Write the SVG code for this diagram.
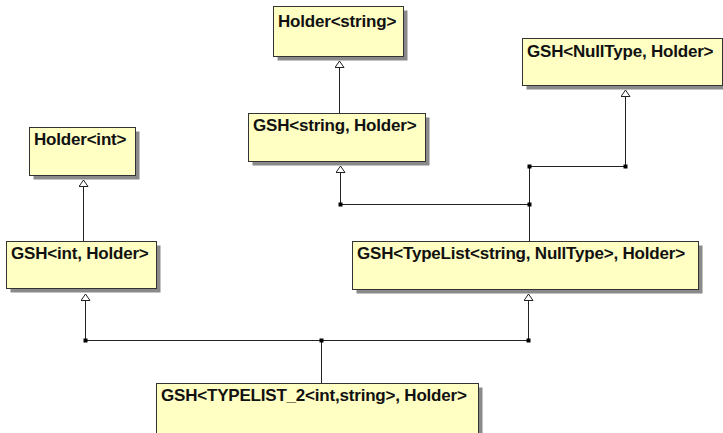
<svg xmlns="http://www.w3.org/2000/svg" width="723" height="433" viewBox="0 0 723 433">
  <style>
    .shadow { fill: #8a8a8a; }
    .box { fill: #ffffc4; stroke: #333333; stroke-width: 1; }
    .label { font-family: "Liberation Sans", Arial, sans-serif; font-weight: bold; font-size: 17px; letter-spacing: -0.2px; fill: #111111; }
    .edge { fill: none; stroke: #222222; stroke-width: 1; }
    .dot { fill: #000000; }
  </style>
  <defs>
    <!-- hollow triangle head for generalization, tip along +x -->
    <marker id="inherit" viewBox="0 0 8 10" refX="7.5" refY="5" markerWidth="8" markerHeight="10" markerUnits="userSpaceOnUse" orient="auto">
      <path d="M1,0.5 L7.5,5 L1,9.5 Z" fill="#ffffff" stroke="#222222" stroke-width="1"/>
    </marker>
  </defs>

  <!-- class nodes -->
  <g id="holder-string">
    <rect class="shadow" x="277.5" y="10.5" width="130" height="50"/>
    <rect class="box" x="273.5" y="6.5" width="130" height="50"/>
    <text class="label" x="278" y="27">Holder&lt;string&gt;</text>
  </g>
  <g id="gsh-string-holder">
    <rect class="shadow" x="252.5" y="117.5" width="177" height="48"/>
    <rect class="box" x="248.5" y="113.5" width="177" height="48"/>
    <text class="label" x="253" y="131">GSH&lt;string, Holder&gt;</text>
  </g>
  <g id="gsh-nulltype-holder">
    <rect class="shadow" x="526.5" y="42.5" width="200" height="47"/>
    <rect class="box" x="522.5" y="38.5" width="200" height="47"/>
    <text class="label" x="527" y="57">GSH&lt;NullType, Holder&gt;</text>
  </g>
  <g id="holder-int">
    <rect class="shadow" x="33.5" y="131.5" width="106" height="48"/>
    <rect class="box" x="29.5" y="127.5" width="106" height="48"/>
    <text class="label" x="34" y="145">Holder&lt;int&gt;</text>
  </g>
  <g id="gsh-int-holder">
    <rect class="shadow" x="10.5" y="245.5" width="150" height="47"/>
    <rect class="box" x="6.5" y="241.5" width="150" height="47"/>
    <text class="label" x="11" y="259">GSH&lt;int, Holder&gt;</text>
  </g>
  <g id="gsh-typelist-holder">
    <rect class="shadow" x="356.5" y="245.5" width="346" height="48"/>
    <rect class="box" x="352.5" y="241.5" width="346" height="48"/>
    <text class="label" x="357" y="259">GSH&lt;TypeList&lt;string, NullType&gt;, Holder&gt;</text>
  </g>
  <g id="gsh-typelist2-holder">
    <rect class="shadow" x="160.5" y="387.5" width="322" height="50"/>
    <rect class="box" x="156.5" y="383.5" width="322" height="50"/>
    <text class="label" x="161" y="401">GSH&lt;TYPELIST_2&lt;int,string&gt;, Holder&gt;</text>
  </g>

  <!-- generalization connectors -->
  <g id="connectors">
    <path class="edge" d="M339.5,113 L339.5,61" marker-end="url(#inherit)"/>
    <path class="edge" d="M83.5,241 L83.5,180" marker-end="url(#inherit)"/>
    <path class="edge" d="M529.5,241 L529.5,204.5 L340.5,204.5 L340.5,166" marker-end="url(#inherit)"/>
    <path class="edge" d="M529.5,204.5 L529.5,166.5 L625.5,166.5 L625.5,90" marker-end="url(#inherit)"/>
    <path class="edge" d="M321.5,383 L321.5,340.5 L85.5,340.5 L85.5,294" marker-end="url(#inherit)"/>
    <path class="edge" d="M321.5,340.5 L528.5,340.5 L528.5,294" marker-end="url(#inherit)"/>
    <rect class="dot" x="338.5" y="202.5" width="4" height="4"/>
    <rect class="dot" x="527.5" y="202.5" width="4" height="4"/>
    <rect class="dot" x="527.5" y="164.5" width="4" height="4"/>
    <rect class="dot" x="623.5" y="164.5" width="4" height="4"/>
    <rect class="dot" x="83.5" y="338.5" width="4" height="4"/>
    <rect class="dot" x="319.5" y="338.5" width="4" height="4"/>
    <rect class="dot" x="526.5" y="338.5" width="4" height="4"/>
  </g>
</svg>
